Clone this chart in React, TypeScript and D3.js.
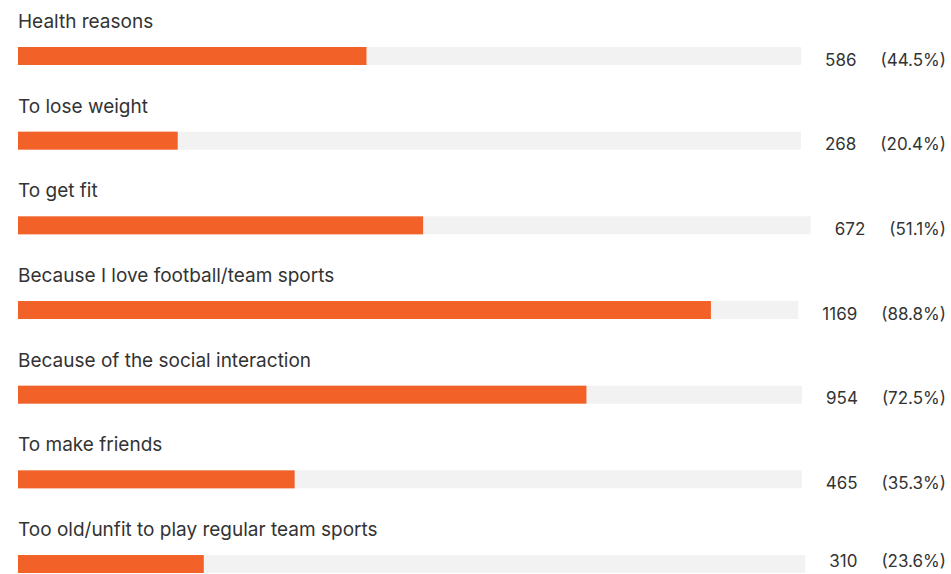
import React, { useEffect, useRef } from 'react';
import * as d3 from 'd3';

const categories = [
  'Health reasons',
  'To lose weight',
  'To get fit',
  'Because I love football/team sports',
  'Because of the social interaction',
  'To make friends',
  'Too old/unfit to play regular team sports',
];
const counts = [586, 268, 672, 1169, 954, 465, 310];
const percents = [44.5, 20.4, 51.1, 88.8, 72.5, 35.3, 23.6];

const W = 951;
const H = 574;
const FONT = 'Inter, "Noto Sans", sans-serif';

const App: React.FC = () => {
  const ref = useRef<SVGSVGElement | null>(null);

  useEffect(() => {
    if (!ref.current) return;
    const svg = d3.select(ref.current);
    svg.selectAll('*').remove();

    const left = 18;
    const right = 946;
    const gap = 24;

    const y = d3.scaleBand<string>()
      .domain(categories)
      .range([0, 84.67 * categories.length])
      .padding(0);

    const rows = svg.selectAll('g.row')
      .data(categories)
      .enter()
      .append('g')
      .attr('class', 'row')
      .attr('transform', d => `translate(0, ${y(d)})`);

    rows.append('text')
      .attr('x', left)
      .attr('y', 28)
      .style('font-family', FONT)
      .style('font-size', '19px')
      .style('fill', '#333')
      .text(d => d);

    rows.each(function (d, i) {
      const g = d3.select(this);
      const top = y(d)!;
      // value labels sit on the bar's bottom; the last row is squeezed by the page edge
      const base = Math.min(65.5, H - 7 - top);
      const pct = g.append('text')
        .attr('x', right)
        .attr('y', base)
        .attr('text-anchor', 'end')
        .style('font-family', FONT)
        .style('font-size', '17px')
        .style('fill', '#333')
        .text(`(${percents[i].toFixed(1)}%)`);
      const pw = (pct.node() as SVGTextElement).getComputedTextLength();
      const numRight = right - pw - gap;
      const num = g.append('text')
        .attr('x', numRight)
        .attr('y', base)
        .attr('text-anchor', 'end')
        .style('font-family', FONT)
        .style('font-size', '17px')
        .style('fill', '#333')
        .text(String(counts[i]));
      const nw = (num.node() as SVGTextElement).getComputedTextLength();
      const trackEnd = numRight - nw - gap;

      const x = d3.scaleLinear().domain([0, 100]).range([left, trackEnd]);

      g.append('rect')
        .attr('x', x(0))
        .attr('y', 47)
        .attr('width', x(100) - x(0))
        .attr('height', 18)
        .attr('fill', '#f2f2f2');
      g.append('rect')
        .attr('x', x(0))
        .attr('y', 47)
        .attr('width', x(percents[i]) - x(0))
        .attr('height', 18)
        .attr('fill', '#f26127');
    });
  }, []);

  return (
    <svg
      ref={ref}
      width={W}
      height={H}
      style={{ position: 'absolute', left: 0, top: 0, background: '#fff' }}
    />
  );
};

export default App;
